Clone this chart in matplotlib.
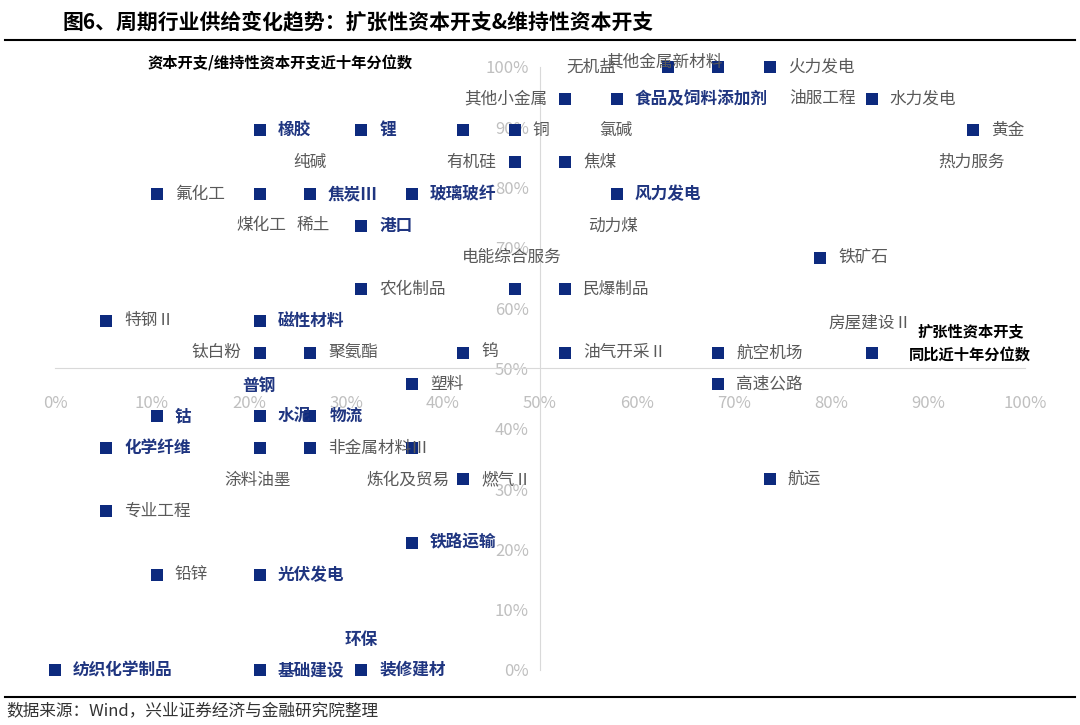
import matplotlib.pyplot as plt

plt.rcParams["font.family"] = ["Noto Sans CJK SC", "DejaVu Sans"]

# =========================
# DATA (percentiles, %)
# =========================

names = [
    "无机盐", "其他金属新材料", "火力发电",
    "其他小金属", "食品及饲料添加剂", "油服工程", "水力发电",
    "橡胶", "锂", "氯碱", "铜", "黄金", "热力服务",
    "有机硅", "焦煤",
    "氟化工", "纯碱", "焦炭Ⅲ", "玻璃玻纤", "风力发电", "动力煤",
    "煤化工", "稀土", "港口",
    "铁矿石",
    "农化制品", "电能综合服务", "民爆制品",
    "特钢Ⅱ", "磁性材料",
    "钛白粉", "聚氨酯", "钨", "油气开采Ⅱ", "航空机场", "房屋建设Ⅱ",
    "塑料", "高速公路",
    "钴", "水泥", "物流", "普钢",
    "化学纤维", "涂料油墨", "非金属材料Ⅲ", "炼化及贸易",
    "燃气Ⅱ", "航运",
    "专业工程",
    "铁路运输",
    "铅锌", "光伏发电",
    "纺织化学制品", "基础建设", "装修建材", "环保",
]
x_pct = [
    63.2, 68.4, 73.7,
    52.6, 57.9, 84.2, 84.2,
    21.1, 31.6, 42.1, 47.4, 94.7, 94.7,
    47.4, 52.6,
    10.5, 21.1, 26.3, 36.8, 57.9, 57.9,
    31.6, 31.6, 31.6,
    78.9,
    31.6, 47.4, 52.6,
    5.3, 21.1,
    21.1, 26.3, 42.1, 52.6, 68.4, 84.2,
    36.8, 68.4,
    10.5, 21.1, 26.3, 21.1,
    5.3, 21.1, 26.3, 36.8,
    42.1, 73.7,
    5.3,
    36.8,
    10.5, 21.1,
    0.0, 21.1, 31.6, 31.6,
]
y_pct = [
    100.0, 100.0, 100.0,
    94.7, 94.7, 94.7, 94.7,
    89.5, 89.5, 89.5, 89.5, 89.5, 89.5,
    84.2, 84.2,
    78.9, 78.9, 78.9, 78.9, 78.9, 78.9,
    73.7, 73.7, 73.7,
    68.4,
    63.2, 63.2, 63.2,
    57.9, 57.9,
    52.6, 52.6, 52.6, 52.6, 52.6, 52.6,
    47.4, 47.4,
    42.1, 42.1, 42.1, 42.1,
    36.8, 36.8, 36.8, 36.8,
    31.6, 31.6,
    26.3,
    21.1,
    15.8, 15.8,
    0.0, 0.0, 0.0, 0.0,
]
bold_names = {
    "食品及饲料添加剂", "橡胶", "锂", "焦炭Ⅲ", "玻璃玻纤", "风力发电", "港口",
    "磁性材料", "普钢", "钴", "水泥", "物流", "化学纤维", "铁路运输",
    "光伏发电", "纺织化学制品", "基础建设", "装修建材", "环保",
}

# label offsets in pixels (dx, dy, ha) where not simply right of marker
label_pos = {
    "无机盐": (-102, 0, "left"),
    "其他金属新材料": (-112, 5, "left"),
    "其他小金属": (-18, 0, "right"),
    "油服工程": (-16, 0, "right"),
    "氯碱": (136, 0, "left"),
    "热力服务": (-35, -32, "left"),
    "有机硅": (-18, 0, "right"),
    "纯碱": (34, 32, "left"),
    "动力煤": (-28, -32, "left"),
    "煤化工": (-75, 0, "right"),
    "稀土": (-32, 0, "right"),
    "电能综合服务": (-53, 32, "left"),
    "钛白粉": (-18, 0, "right"),
    "房屋建设Ⅱ": (-43, 30, "left"),
    "普钢": (-17, 30, "left"),
    "物流": (20, 0, "left"),
    "涂料油墨": (-35, -32, "left"),
    "炼化及贸易": (-45, -32, "left"),
    "环保": (-17, 30, "left"),
}

# =========================
# PLOT
# =========================

fig = plt.figure(figsize=(10.8, 7.25), dpi=100)
ax = fig.add_axes([0.0509, 0.0759, 0.898, 0.8317])

ax.scatter(x_pct, y_pct, marker="s", s=75, color="#0D2A7E", zorder=3,
           clip_on=False, linewidths=0)

for n, x, y in zip(names, x_pct, y_pct):
    dx, dy, ha = label_pos.get(n, (18, 0, "left"))
    bold = n in bold_names
    ax.annotate(n, (x, y), xytext=(dx * 0.72, dy * 0.72),
                textcoords="offset points", ha=ha, va="center",
                fontsize=12, fontweight="bold" if bold else "normal",
                color="#1F3580" if bold else "#595959", zorder=4,
                annotation_clip=False)

ax.set_xlim(0, 100)
ax.set_ylim(0, 100)
for s in ["top", "right"]:
    ax.spines[s].set_visible(False)
ax.spines["left"].set_position(("data", 50))
ax.spines["bottom"].set_position(("data", 50))
for s in ["left", "bottom"]:
    ax.spines[s].set_color("#D9D9D9")
ax.set_xticks(range(0, 101, 10))
ax.set_xticklabels([f"{v}%" for v in range(0, 101, 10)])
ax.set_yticks(range(0, 101, 10))
ax.set_yticklabels([f"{v}%" for v in range(0, 101, 10)])
ax.tick_params(length=0, labelsize=12, labelcolor="#BFBFBF")
ax.tick_params(axis="x", pad=19)
ax.tick_params(axis="y", pad=8)

fig.text(0.058, 0.97, "图6、周期行业供给变化趋势：扩张性资本开支&维持性资本开支",
         fontsize=15, fontweight="bold", va="center")
fig.add_artist(plt.Line2D([0.005, 0.995], [0.945, 0.945], color="black", lw=1.5))
fig.add_artist(plt.Line2D([0.005, 0.995], [0.039, 0.039], color="black", lw=1.5))
fig.text(0.006, 0.019, "数据来源：Wind，兴业证券经济与金融研究院整理",
         fontsize=12, color="#333333", va="center")
fig.text(0.137, 0.912, "资本开支/维持性资本开支近十年分位数",
         fontsize=11, fontweight="bold", va="center")
fig.text(0.85, 0.543, "扩张性资本开支", fontsize=11, fontweight="bold", va="center")
fig.text(0.842, 0.51, "同比近十年分位数", fontsize=11, fontweight="bold", va="center")

fig.savefig("out.png", dpi=100)
